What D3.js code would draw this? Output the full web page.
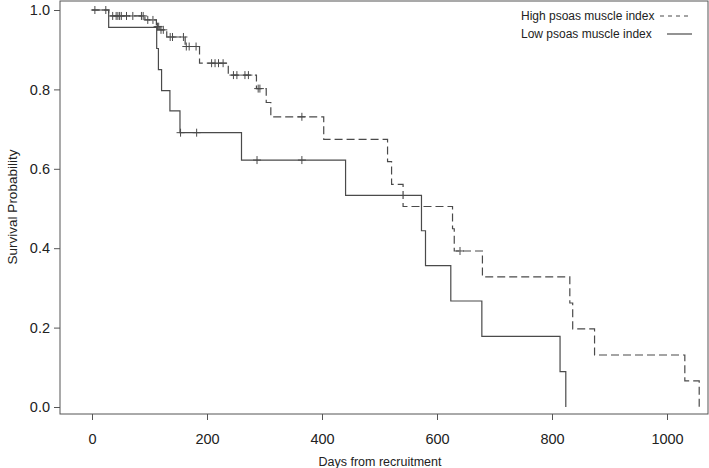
<!DOCTYPE html>
<html><head><meta charset="utf-8">
<script src="https://cdn.jsdelivr.net/npm/d3@7"></script>
<style>
html,body{margin:0;padding:0;background:#fff;}
svg{display:block;font-family:"Liberation Sans",Arial,Helvetica,sans-serif;}
</style></head>
<body><svg id="chart" width="709" height="468"></svg>
<script>
// ---- data ----
const highTimes = [0, 29, 92, 112, 118, 130, 162, 187, 237, 286, 303, 311, 403, 514, 521, 541, 627, 630, 679, 831, 836, 874, 1031, 1056];
const highSurv  = [1.0, 0.985, 0.975, 0.958, 0.950, 0.932, 0.908, 0.866, 0.836, 0.802, 0.767, 0.731, 0.674, 0.618, 0.561, 0.505, 0.449, 0.393, 0.328, 0.262, 0.197, 0.131, 0.066, 0.0];
const highCensorTimes = [5, 24, 36, 42, 45, 48, 51, 60, 71, 86, 89, 97, 106, 114, 116, 120, 124, 136, 140, 159, 164, 169, 181, 208, 214, 220, 228, 246, 252, 266, 272, 289, 292, 365, 640];
const highCensorSurv  = [1.0, 1.0, 0.985, 0.985, 0.985, 0.985, 0.985, 0.985, 0.985, 0.985, 0.985, 0.975, 0.975, 0.958, 0.958, 0.950, 0.950, 0.932, 0.932, 0.932, 0.908, 0.908, 0.908, 0.866, 0.866, 0.866, 0.866, 0.836, 0.836, 0.836, 0.836, 0.802, 0.802, 0.731, 0.393];
const lowTimes = [0, 29, 112.5, 115.5, 121, 135.5, 153, 260, 441, 573, 580, 624, 678, 814, 824];
const lowSurv  = [1.0, 0.956, 0.903, 0.850, 0.797, 0.746, 0.691, 0.622, 0.533, 0.444, 0.356, 0.267, 0.178, 0.089, 0.0];
const lowCensorTimes = [154, 182, 287, 365];
const lowCensorSurv  = [0.691, 0.691, 0.622, 0.622];
const xTicks = [0, 200, 400, 600, 800, 1000];
const yTicks = [0.0, 0.2, 0.4, 0.6, 0.8, 1.0];
const legendLabels = ["High psoas muscle index", "Low psoas muscle index"];
const xTitle = "Days from recruitment";
const yTitle = "Survival Probability";

// ---- layout ----
const svg = d3.select("#chart");
const box = {left: 60, right: 708, top: 1, bottom: 414};
const x = d3.scaleLinear().domain([0, 1000]).range([92, 667]);
const y = d3.scaleLinear().domain([0, 1]).range([407, 10]);
const lineCol = "#4a4a4a";
const axisCol = "#555";

// frame
svg.append("rect").attr("x", box.left).attr("y", box.top)
  .attr("width", box.right - box.left).attr("height", box.bottom - box.top)
  .attr("fill", "none").attr("stroke", axisCol).attr("stroke-width", 1);

// axes
const gx = svg.append("g").attr("transform", `translate(0,${box.bottom})`)
  .call(d3.axisBottom(x).tickValues(xTicks).tickSize(6).tickPadding(14).tickFormat(d3.format("d")));
const gy = svg.append("g").attr("transform", `translate(${box.left},0)`)
  .call(d3.axisLeft(y).tickValues(yTicks).tickSize(6).tickPadding(4).tickFormat(d3.format(".1f")));
[gx, gy].forEach(g => {
  g.select(".domain").remove();
  g.selectAll(".tick line").attr("stroke", axisCol);
  g.selectAll(".tick text").attr("fill", "#222").style("font-size", "14.5px")
    .style("font-family", "'Liberation Sans',Arial,sans-serif");
});

// titles
svg.append("text").attr("x", 380).attr("y", 466).attr("text-anchor", "middle")
  .attr("fill", "#222").style("font-size", "12.5px").text(xTitle);
svg.append("text").attr("transform", "translate(17,207) rotate(-90)").attr("text-anchor", "middle")
  .attr("fill", "#222").style("font-size", "13.5px").text(yTitle);

// curves
const line = d3.line().curve(d3.curveStepAfter).x(d => x(d[0])).y(d => y(d[1]));
const highPts = highTimes.map((t, i) => [t, highSurv[i]]);
const lowPts = lowTimes.map((t, i) => [t, lowSurv[i]]);

svg.append("path").datum(highPts).attr("d", line).attr("fill", "none")
  .attr("stroke", lineCol).attr("stroke-width", 1.2).attr("stroke-dasharray", "8,4");
svg.append("path").datum(lowPts).attr("d", line).attr("fill", "none")
  .attr("stroke", lineCol).attr("stroke-width", 1.2);

// censor marks
function censors(times, surv) {
  const g = svg.append("g").attr("stroke", lineCol).attr("stroke-width", 1);
  times.forEach((t, i) => {
    const cx = x(t), cy = y(surv[i]);
    g.append("line").attr("x1", cx).attr("x2", cx).attr("y1", cy - 4).attr("y2", cy + 4);
    g.append("line").attr("x1", cx - 4).attr("x2", cx + 4).attr("y1", cy).attr("y2", cy);
  });
}
censors(highCensorTimes, highCensorSurv);
censors(lowCensorTimes, lowCensorSurv);

// legend
const leg = svg.append("g");
leg.append("text").attr("x", 521).attr("y", 20).attr("fill", "#222").style("font-size", "12px").text(legendLabels[0]);
leg.append("text").attr("x", 521).attr("y", 38).attr("fill", "#222").style("font-size", "12px").text(legendLabels[1]);
leg.append("line").attr("x1", 660).attr("x2", 692).attr("y1", 16).attr("y2", 16)
  .attr("stroke", lineCol).attr("stroke-width", 1.2).attr("stroke-dasharray", "4,4");
leg.append("line").attr("x1", 667).attr("x2", 692).attr("y1", 34).attr("y2", 34)
  .attr("stroke", lineCol).attr("stroke-width", 1.2);
</script></body></html>
